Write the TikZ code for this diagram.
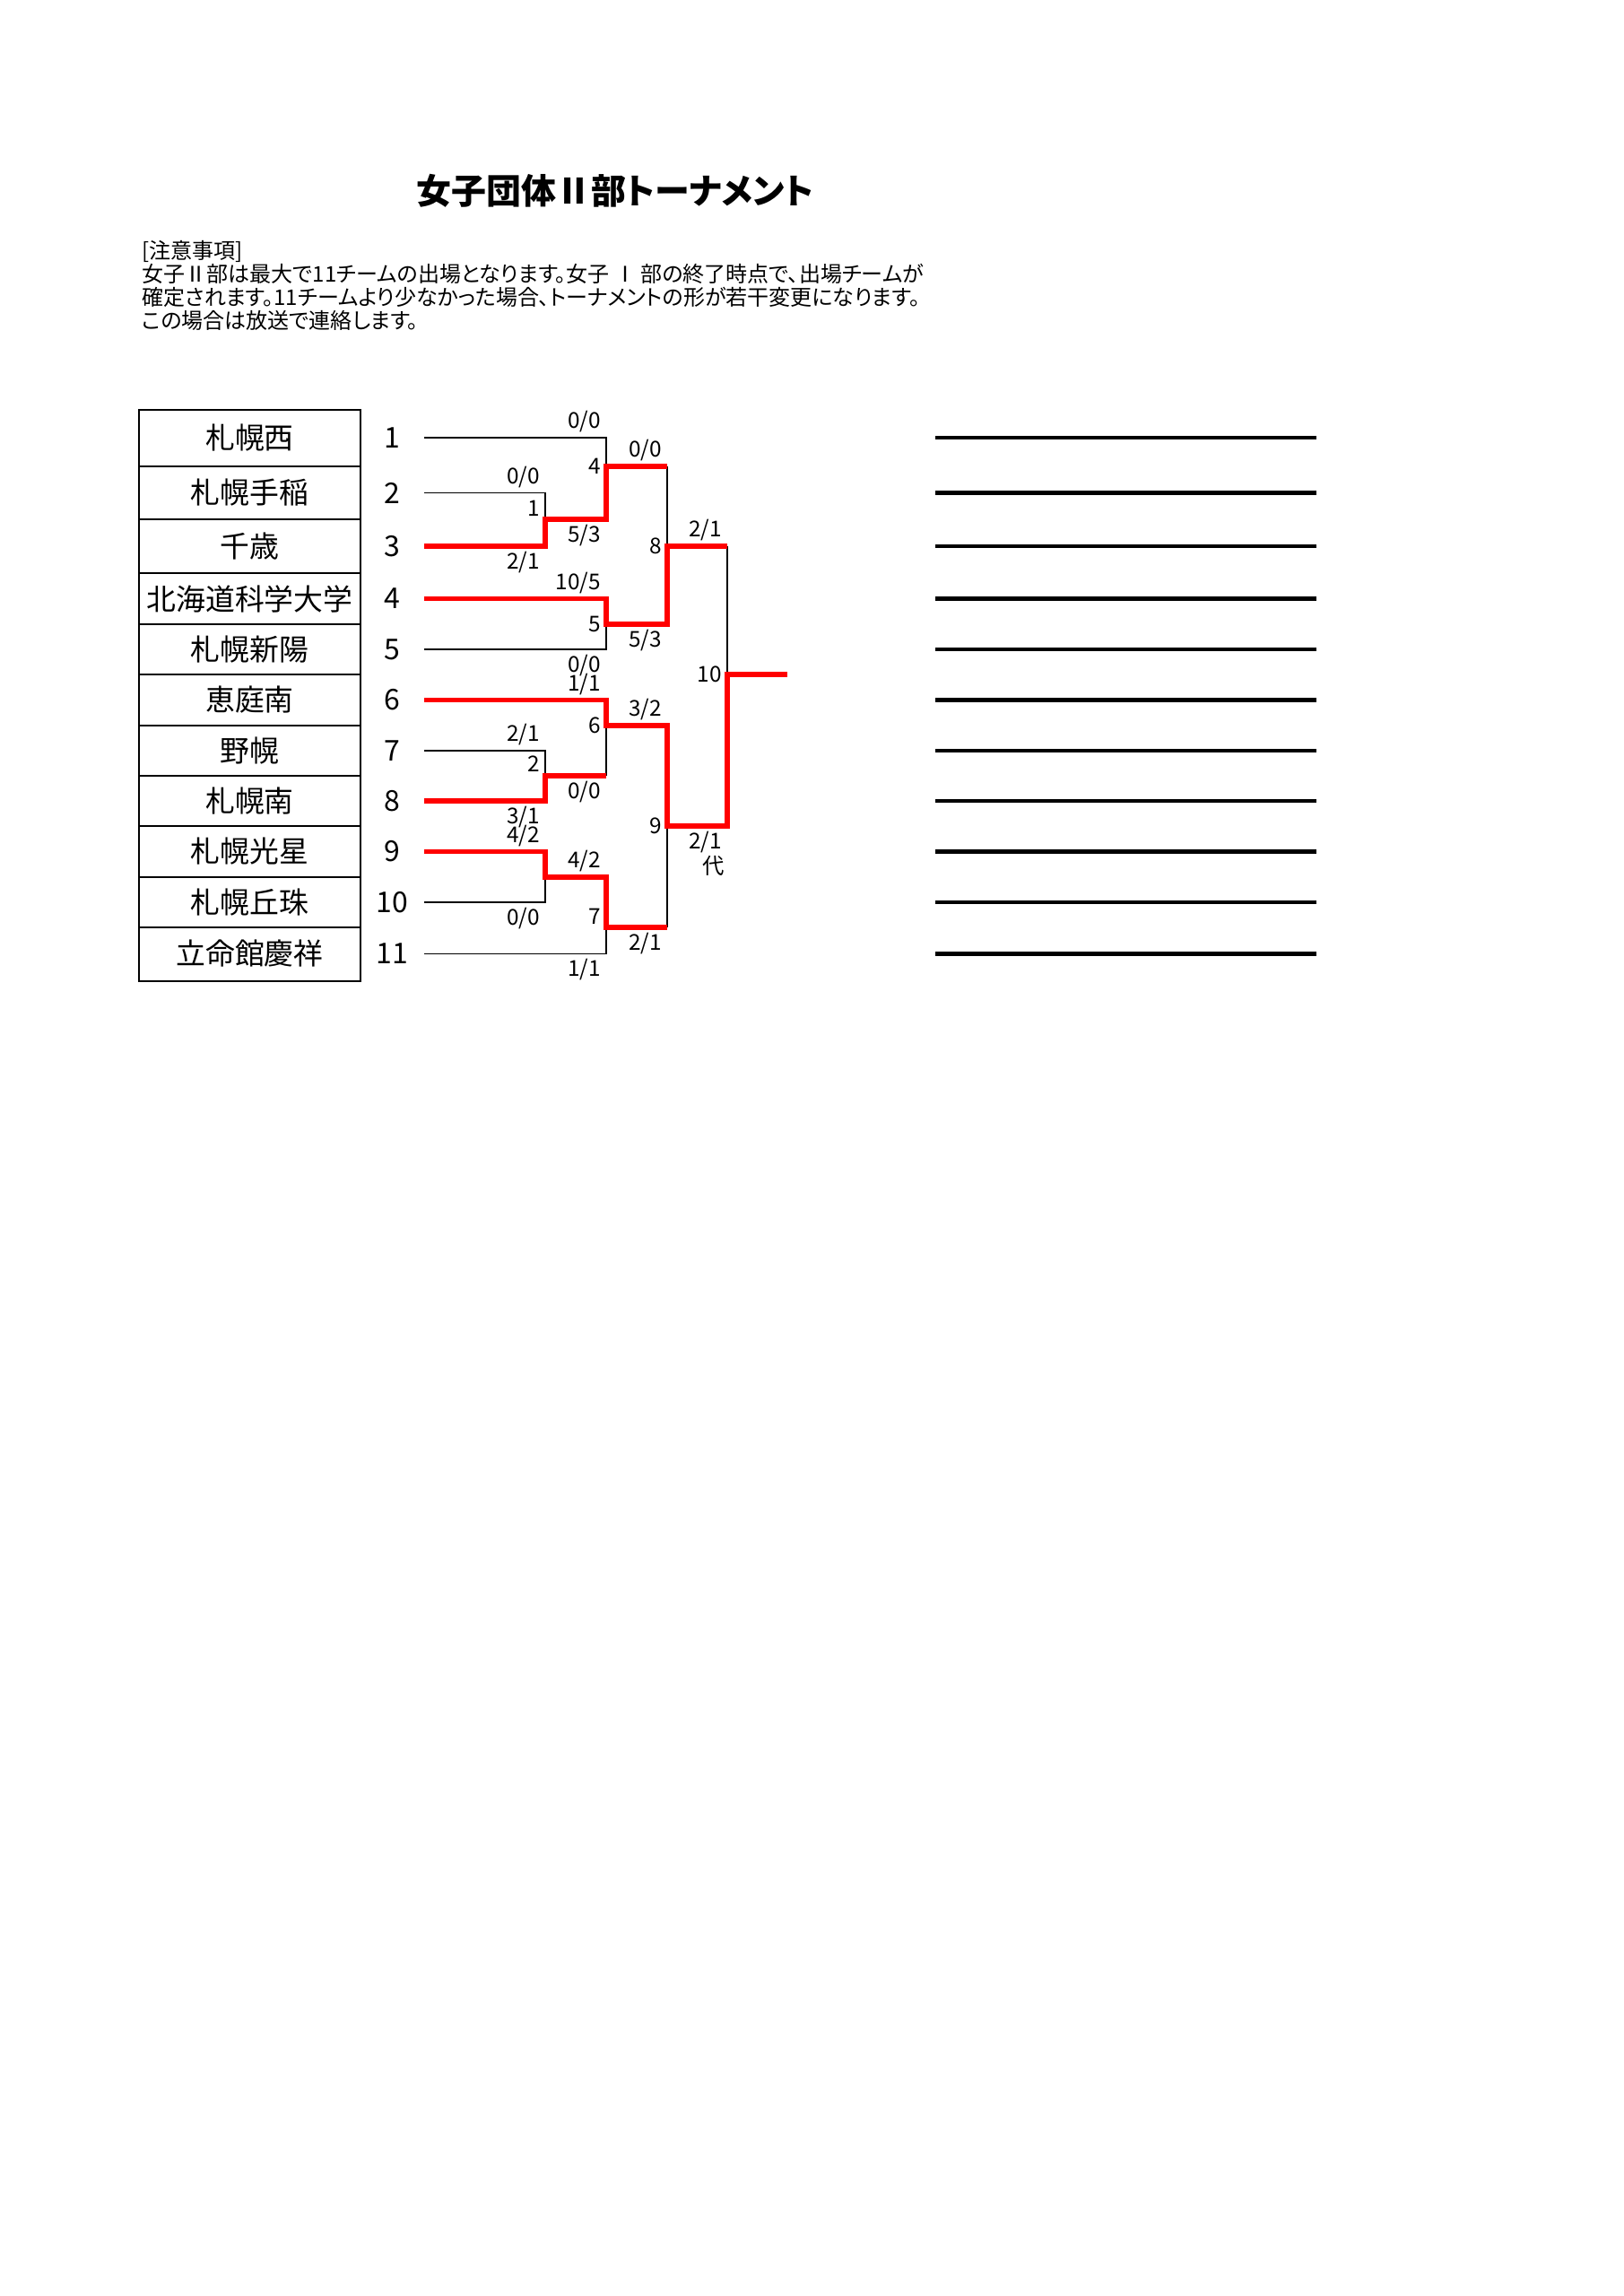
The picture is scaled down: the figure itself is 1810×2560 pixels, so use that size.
\documentclass[tikz,border=0pt]{standalone}
\usepackage{fontspec}
\setmainfont{Noto Sans CJK JP}
\newfontfamily\propjp[RawFeature=+palt]{Noto Sans CJK JP}
\usepackage{tikz}

\begin{document}
\begin{tikzpicture}[x=0.32888pt,y=-0.32888pt,
	team/.style={font=\fontsize{10.8}{12}\selectfont},
	seed/.style={font=\fontsize{10.5}{12}\selectfont},
	score/.style={font=\fontsize{8}{9}\selectfont,inner sep=1.8pt},
	game/.style={font=\fontsize{8}{9}\selectfont,inner sep=1.8pt,anchor=east},
	lose/.style={line width=0.55pt,black},
	win/.style={line width=1.7pt,red},
	blank/.style={line width=1.4pt,black}]
	\useasboundingbox (0,0) rectangle (1810,2560);
	\node[font=\propjp\bfseries\fontsize{12.8}{15}\selectfont] (title) at (686,213) {女子団体Ⅱ部トーナメント};
	\node[anchor=north west,align=left,inner sep=0pt,font=\propjp\fontsize{7.9}{8.5}\selectfont] (note) at (158,268)
		{[注意事項]\\
		女子Ⅱ部は最大で11チームの出場となります。女子 Ⅰ 部の終了時点で、出場チームが\\
		確定されます。11チームより少なかった場合、トーナメントの形が若干変更になります。\\
		この場合は放送で連絡します。};
	\draw[line width=0.6pt] (155,457) rectangle (402,1094);
	\draw[line width=0.6pt] (155,520) -- (402,520) (155,579) -- (402,579) (155,639) -- (402,639)
		(155,696) -- (402,696) (155,752) -- (402,752) (155,809) -- (402,809) (155,865) -- (402,865)
		(155,921) -- (402,921) (155,978) -- (402,978) (155,1034) -- (402,1034);
	\node[team] (t1) at (278.5,488) {札幌西};
	\node[team] (t2) at (278.5,549.5) {札幌手稲};
	\node[team] (t3) at (278.5,609) {千歳};
	\node[team] (t4) at (278.5,667.5) {北海道科学大学};
	\node[team] (t5) at (278.5,724) {札幌新陽};
	\node[team] (t6) at (278.5,780.5) {恵庭南};
	\node[team] (t7) at (278.5,837) {野幌};
	\node[team] (t8) at (278.5,893) {札幌南};
	\node[team] (t9) at (278.5,949.5) {札幌光星};
	\node[team] (t10) at (278.5,1006) {札幌丘珠};
	\node[team] (t11) at (278.5,1063.5) {立命館慶祥};
	\node[seed] (n1) at (437,488) {1};
	\node[seed] (n2) at (437,549.5) {2};
	\node[seed] (n3) at (437,609) {3};
	\node[seed] (n4) at (437,667.5) {4};
	\node[seed] (n5) at (437,724) {5};
	\node[seed] (n6) at (437,780.5) {6};
	\node[seed] (n7) at (437,837) {7};
	\node[seed] (n8) at (437,893) {8};
	\node[seed] (n9) at (437,949.5) {9};
	\node[seed] (n10) at (437,1006) {10};
	\node[seed] (n11) at (437,1063.5) {11};
	\coordinate (p1) at (473,488);
	\coordinate (p2) at (473,549.5);
	\coordinate (p3) at (473,609);
	\coordinate (p4) at (473,667.5);
	\coordinate (p5) at (473,724);
	\coordinate (p6) at (473,780.5);
	\coordinate (p7) at (473,837);
	\coordinate (p8) at (473,893);
	\coordinate (p9) at (473,949.5);
	\coordinate (p10) at (473,1006);
	\coordinate (p11) at (473,1063.5);
	\coordinate (m1) at (608,579);
	\coordinate (m2) at (608,865);
	\coordinate (m3) at (608,978);
	\coordinate (m4) at (676,520);
	\coordinate (m5) at (676,696);
	\coordinate (m6) at (676,809);
	\coordinate (m7) at (676,1034);
	\coordinate (m8) at (744,609);
	\coordinate (m9) at (744,921);
	\coordinate (m10) at (811,752);
	\coordinate (fin) at (878,752);
	\draw[lose] (p1) -| (m4);
	\draw[lose] (p2) -| (m1);
	\draw[lose] (p5) -| (m5);
	\draw[lose] (p7) -| (m2);
	\draw[lose] (p10) -| (m3);
	\draw[lose] (p11) -| (m7);
	\draw[lose] (m4 -| m8) -- (m8);
	\draw[lose] (m2 -| m6) -- (m6);
	\draw[lose] (m7 -| m9) -- (m9);
	\draw[lose] (m8 -| m10) -- (m10);
	\draw[win] (p3) -| (m1) -| (m4) -- (m4 -| m8);
	\draw[win] (p4) -| (m5) -| (m8) -- (m8 -| m10);
	\draw[win] (p6) -| (m6) -| (m9) -| (m10) -- (fin);
	\draw[win] (p8) -| (m2) -- (m2 -| m6);
	\draw[win] (p9) -| (m3) -| (m7) -- (m7 -| m9);
	\node[score,above left] (s1a) at (m1 |- p2) {0/0};
	\node[score,below left] (s1b) at (m1 |- p3) {2/1};
	\node[game] (g1) at (608,567) {1};
	\node[score,above left] (s2a) at (m2 |- p7) {2/1};
	\node[score,below left] (s2b) at (m2 |- p8) {3/1};
	\node[game] (g2) at (608,852) {2};
	\node[score,above left] (s3a) at (m3 |- p9) {4/2};
	\node[score,below left] (s3b) at (m3 |- p10) {0/0};
	\node[score,above left] (s4a) at (m4 |- p1) {0/0};
	\node[score,below left] (s4b) at (m4 |- m1) {5/3};
	\node[game] (g4) at (m4) {4};
	\node[score,above left] (s5a) at (m5 |- p4) {10/5};
	\node[score,below left] (s5b) at (m5 |- p5) {0/0};
	\node[game] (g5) at (m5) {5};
	\node[score,above left] (s6a) at (m6 |- p6) {1/1};
	\node[score,below left] (s6b) at (m6 |- m2) {0/0};
	\node[game] (g6) at (m6) {6};
	\node[score,above left] (s7a) at (m7 |- m3) {4/2};
	\node[score,below left] (s7b) at (m7 |- p11) {1/1};
	\node[game] (g7) at (676,1022) {7};
	\node[score,above left] (s8a) at (m8 |- m4) {0/0};
	\node[score,below left] (s8b) at (m8 |- m5) {5/3};
	\node[game] (g8) at (m8) {8};
	\node[score,above left] (s9a) at (m9 |- m6) {3/2};
	\node[score,below left] (s9b) at (m9 |- m7) {2/1};
	\node[game] (g9) at (m9) {9};
	\node[score,above left] (s10a) at (m10 |- m8) {2/1};
	\node[score,below left] (s10b) at (m10 |- m9) {2/1};
	\node[game] (g10) at (m10) {10};
	\node[score,anchor=north east,inner sep=0pt] (sub) at ([xshift=-1pt,yshift=1pt]s10b.south east) {代};
	\draw[blank] (1043,488) -- (1468,488);
	\draw[blank] (1043,549.5) -- (1468,549.5);
	\draw[blank] (1043,609) -- (1468,609);
	\draw[blank] (1043,667.5) -- (1468,667.5);
	\draw[blank] (1043,724) -- (1468,724);
	\draw[blank] (1043,780.5) -- (1468,780.5);
	\draw[blank] (1043,837) -- (1468,837);
	\draw[blank] (1043,893) -- (1468,893);
	\draw[blank] (1043,949.5) -- (1468,949.5);
	\draw[blank] (1043,1006) -- (1468,1006);
	\draw[blank] (1043,1063.5) -- (1468,1063.5);
\end{tikzpicture}
\end{document}
